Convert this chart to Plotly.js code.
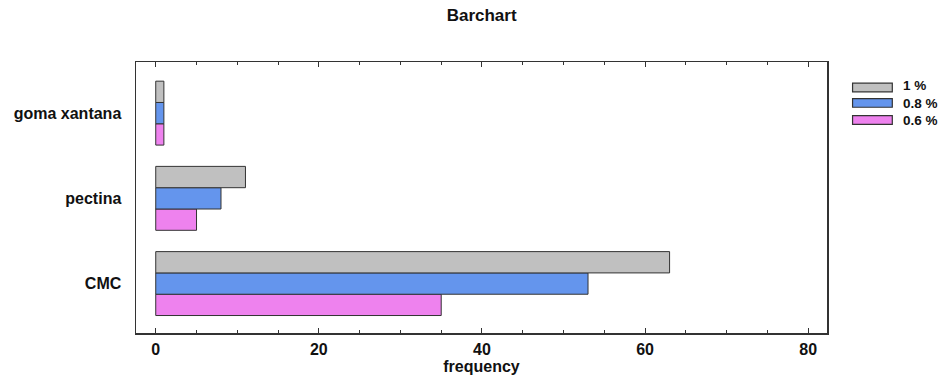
<!DOCTYPE html>
<html>
<head>
<meta charset="utf-8">
<script src="https://cdn.plot.ly/plotly-3.0.1.min.js"></script>
<style>html,body{margin:0;padding:0;background:#fff;}#chart{width:949px;height:380px;}</style>
</head>
<body>
<div id="chart"></div>
<script>
const categories = ["CMC", "pectina", "goma xantana"];
const seriesNames = ["0.6 %", "0.8 %", "1 %"];
const values06 = [35, 5, 1];
const values08 = [53, 8, 1];
const values1 = [63, 11, 1];
const colors = ["#EE82EE", "#6495ED", "#C0C0C0"];
const xTicks = [0, 20, 40, 60, 80];

const allValues = [values06, values08, values1];
const fam = "Liberation Sans, Arial, sans-serif";

const traces = allValues.map((v, i) => ({
  type: "bar",
  orientation: "h",
  name: seriesNames[i],
  y: categories,
  x: v,
  marker: {color: colors[i], line: {color: "#333", width: 1}},
  showlegend: false,
  hoverinfo: "x+y"
}));

// custom legend (wide swatches like the reference), top item = last series
const shapes = [];
const legendOrder = [2, 1, 0];
const legY = [0.906, 0.849, 0.786];
legendOrder.forEach((si, k) => {
  shapes.push({
    type: "rect", xref: "paper", yref: "paper",
    x0: 1.037, x1: 1.0945, y0: legY[k] - 0.016, y1: legY[k] + 0.016,
    fillcolor: colors[si], line: {color: "#333", width: 1.2}
  });
});
const annotations = [{
  xref: "paper", yref: "paper", x: 1.109, y: legY[1],
  xanchor: "left", yanchor: "middle", align: "left", showarrow: false, borderpad: 0,
  text: legendOrder.map(si => "<b>" + seriesNames[si] + "</b>").join("<br>"),
  font: {family: fam, size: 13.5, color: "#111"}
}];

const layout = {
  width: 949, height: 380,
  margin: {l: 136, r: 122, t: 62, b: 47},
  paper_bgcolor: "#fff", plot_bgcolor: "#fff",
  barmode: "group", bargap: 0.25, bargroupgap: 0,
  title: {text: "<b>Barchart</b>", x: 0.5075, xanchor: "center", y: 0.96, yanchor: "middle",
          font: {family: fam, size: 17, color: "#111"}},
  xaxis: {
    range: [-2.42, 82.3], tickvals: xTicks, ticktext: xTicks.map(t => "<b>" + t + "</b>"),
    ticks: "inside", ticklen: 5, tickcolor: "#333", tickwidth: 1,
    minor: {dtick: 5, ticks: "inside", ticklen: 3, tickcolor: "#333"},
    showline: true, linecolor: "#333", linewidth: 1.5, mirror: "ticks",
    showgrid: false, zeroline: false,
    tickfont: {family: fam, size: 16, color: "#111"},
    ticklabelstandoff: 1,
    title: {text: "<b>frequency</b>", standoff: 2, font: {family: fam, size: 16, color: "#111"}}
  },
  yaxis: {
    range: [-0.58, 2.6],
    tickvals: categories, ticktext: categories.map(c => "<b>" + c + "</b>"),
    showline: true, linecolor: "#333", linewidth: 1.5, mirror: true,
    ticks: "", showgrid: false, zeroline: false,
    tickfont: {family: fam, size: 16, color: "#111"},
    ticklabelstandoff: 10
  },
  shapes: shapes,
  annotations: annotations
};

Plotly.newPlot("chart", traces, layout, {displayModeBar: false, staticPlot: true});
</script>
</body>
</html>
